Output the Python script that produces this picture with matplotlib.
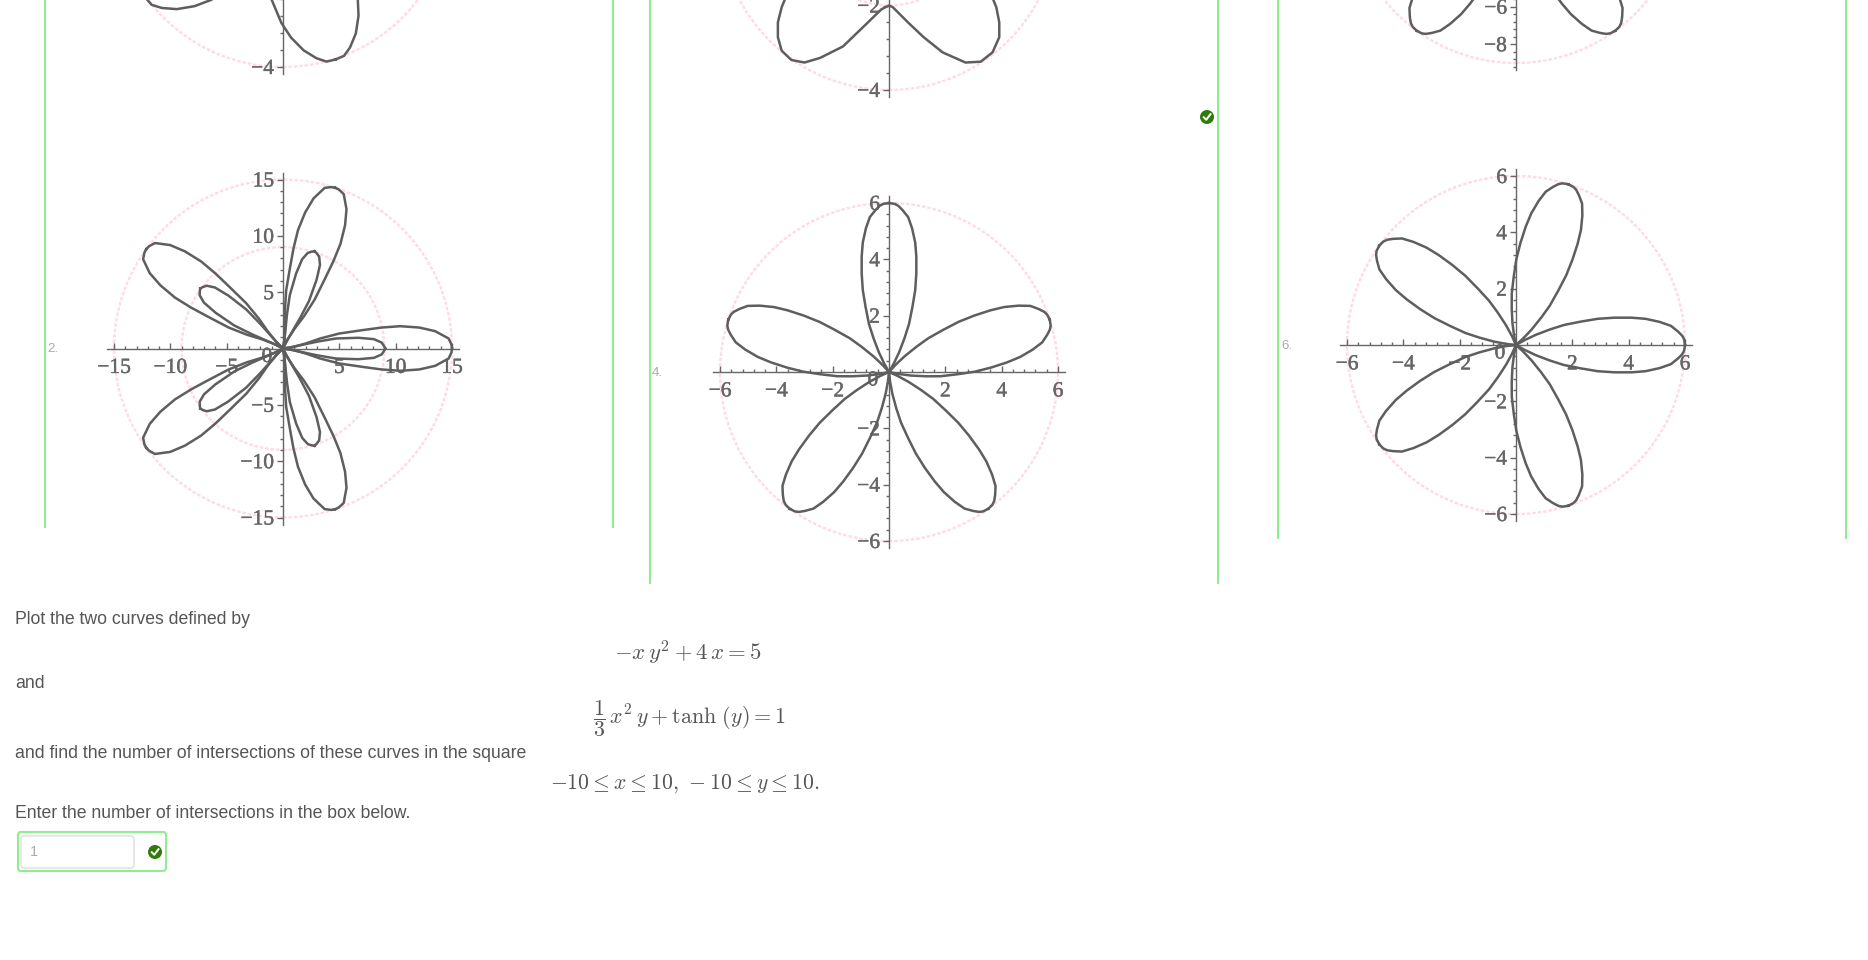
#!/usr/bin/env python3
# -*- coding: utf-8 -*-

import matplotlib
matplotlib.use("Agg")
import matplotlib.pyplot as plt
import matplotlib.patheffects as pe
from matplotlib.patches import Circle, FancyBboxPatch
from matplotlib.ticker import MultipleLocator
from matplotlib.transforms import Affine2D

W, H = 1868, 960
AXIS_GREY = "#666666"
CURVE_GREY = "#5e5e5e"
PINK = "#ffdbe2"
GREEN = "#90ee90"
TEXT_GREY = "#555555"

plt.rcParams['font.family'] = ['Liberation Sans', 'DejaVu Sans']
plt.rcParams['mathtext.fontset'] = 'cm'

# Petal outline, for a petal with its tip at r = 6
petal_along = [6.0, 5.97, 5.9, 5.75, 5.5, 5.1, 4.6, 4.1, 3.5, 2.9, 2.3, 1.7, 1.2, 0.7, 0.3, 0.0]
petal_half = [0.0, 0.2, 0.33, 0.48, 0.68, 0.82, 0.93, 0.97, 0.97, 0.93, 0.83, 0.71, 0.55, 0.36, 0.17, 0.0]

# Panel 1 petals are fatter than the r = 6 ones
fat_along = [4.02, 4.0, 3.85, 3.58, 3.2, 2.8, 2.2, 1.6, 1.1, 0.6, 0.25, 0.0]
fat_half = [0.0, 0.22, 0.42, 0.65, 0.84, 0.95, 1.0, 0.9, 0.7, 0.42, 0.18, 0.0]

# Panel 2 has two petal shapes
outer_along = [15.0, 14.95, 14.7, 13.5, 12.1, 10.4, 8.75, 7.05, 5.0, 3.3, 2.0, 0.95, 0.0]
outer_half = [0.0, 0.35, 0.89, 1.54, 1.86, 1.98, 1.86, 1.63, 1.33, 0.89, 0.44, 0.15, 0.0]
inner_along = [9.08, 8.95, 8.75, 8.07, 6.7, 4.7, 3.0, 1.6, 0.6, 0.0]
inner_half = [0.0, 0.25, 0.53, 0.83, 0.95, 0.89, 0.6, 0.3, 0.09, 0.0]

# Panel 3, the part of the curve that shows below the page top
dimple_x = [-2.45, -2.54, -2.63, -2.63, -2.54, -2.31, -2.0, -1.63, -1.09, -0.54, -0.18, 0.0,
            0.09, 0.45, 0.82, 1.27, 1.81, 2.17, 2.45, 2.61, 2.61, 2.54, 2.45]
dimple_y = [-1.82, -2.04, -2.4, -2.75, -3.07, -3.29, -3.35, -3.24, -2.97, -2.44, -2.09, -2.0,
            -2.04, -2.4, -2.75, -3.11, -3.35, -3.33, -3.11, -2.75, -2.4, -2.04, -1.82]

dirs_right = [0, 72, 144, 216, 288]
dirs_up = [90, 162, 234, 306, 18]

ticks_15 = [-15, -10, -5, 5, 10, 15]
labels_15 = ["−15", "−10", "−5", "5", "10", "15"]
ticks_6 = [-6, -4, -2, 2, 4, 6]
labels_6 = ["−6", "−4", "−2", "2", "4", "6"]

# Top row: only the y ticks that are on the page
yticks_1 = [-4]
ylabels_1 = ["−4"]
yticks_3 = [-4, -2]
ylabels_3 = ["−4", "−2"]
yticks_5 = [-8, -6]
ylabels_5 = ["−8", "−6"]

fig = plt.figure(figsize=(W / 100, H / 100), dpi=100, facecolor="white")

page = fig.add_axes([0, 0, 1, 1])
page.set_xlim(0, W)
page.set_ylim(H, 0)
page.axis("off")

halo = [pe.withStroke(linewidth=0.3, foreground=AXIS_GREY)]


def make_panel(cx, cy, rmax, step, radii, xticks, xlabels, yticks, ylabels, show_zero=False):
    # cx, cy = pixel position of the origin, rmax sits 169 px from it
    half = 176
    ax = fig.add_axes([(cx - half) / W, 1 - (cy + half) / H, 2 * half / W, 2 * half / H])
    lim = rmax * half / 169
    ax.set_xlim(-lim, lim)
    ax.set_ylim(-lim, lim)
    ax.patch.set_alpha(0)
    for side in ["top", "right"]:
        ax.spines[side].set_visible(False)
    for side in ["left", "bottom"]:
        ax.spines[side].set_position("zero")
        ax.spines[side].set_color(AXIS_GREY)
        ax.spines[side].set_linewidth(1.0)
    ax.set_xticks(xticks, labels=xlabels, family="Liberation Serif", fontsize=15.5, color=AXIS_GREY)
    ax.set_yticks(yticks, labels=ylabels, family="Liberation Serif", fontsize=15.5, color=AXIS_GREY)
    ax.xaxis.set_minor_locator(MultipleLocator(step))
    ax.yaxis.set_minor_locator(MultipleLocator(step))
    ax.tick_params(axis="x", which="major", direction="in", length=4.5, width=1, color=AXIS_GREY, pad=7.5)
    ax.tick_params(axis="x", which="minor", direction="in", length=2.2, width=1, color=AXIS_GREY)
    ax.tick_params(axis="y", which="major", direction="out", length=4.5, width=1, color=AXIS_GREY, pad=2)
    ax.tick_params(axis="y", which="minor", direction="out", length=2.2, width=1, color=AXIS_GREY)
    for lab in ax.get_xticklabels() + ax.get_yticklabels():
        lab.set_path_effects(halo)
    for r in radii:
        ax.add_patch(Circle((0, 0), r, fill=False, edgecolor=PINK, linewidth=1.7,
                            linestyle=(0, (1.5, 0.8)), zorder=1))
    if show_zero:
        ax.annotate("0", (0, 0), xytext=(-16, -9), textcoords="offset pixels", ha="center", va="center",
                    family="Liberation Serif", fontsize=15.5, color=AXIS_GREY, path_effects=halo)
    return ax


def draw_petals(ax, along, half, dirs, scale=1.0):
    xs = [a * scale for a in along] + [a * scale for a in reversed(along)]
    ys = [h * scale for h in half] + [-h * scale for h in reversed(half)]
    for d in dirs:
        ax.plot(xs, ys, color=CURVE_GREY, linewidth=1.8, solid_joinstyle="round", zorder=3,
                transform=Affine2D().rotate_deg(d) + ax.transData)


# Top row, cut off by the page top
ax1 = make_panel(283, -102, 4, 0.4, [4], [], [], yticks_1, ylabels_1)
draw_petals(ax1, fat_along, fat_half, dirs_right)

ax3 = make_panel(889, -79, 4, 0.4, [2, 4], [], [], yticks_3, ylabels_3)
ax3.plot(dimple_x, dimple_y, color=CURVE_GREY, linewidth=1.8, zorder=3)

ax5 = make_panel(1516, -106, 9, 0.4, [9], [], [], yticks_5, ylabels_5)
draw_petals(ax5, petal_along, petal_half, dirs_up, 9 / 6)

# Lower row
ax2 = make_panel(283, 348.5, 15, 1, [9, 15], ticks_15, labels_15, ticks_15, labels_15, show_zero=True)
draw_petals(ax2, outer_along, outer_half, dirs_right)
draw_petals(ax2, inner_along, inner_half, dirs_right)

ax4 = make_panel(889, 372, 6, 0.4, [6], ticks_6, labels_6, ticks_6, labels_6, show_zero=True)
draw_petals(ax4, petal_along, petal_half, dirs_up)

ax6 = make_panel(1516, 345, 6, 0.4, [6], ticks_6, labels_6, ticks_6, labels_6, show_zero=True)
draw_petals(ax6, petal_along, petal_half, dirs_right)

# Panel frames and item numbers
for x, bottom in [(45, 528), (613, 528), (650, 584), (1218, 584), (1278, 539), (1846, 539)]:
    page.plot([x, x], [0, bottom], color=GREEN, linewidth=1.5, solid_capstyle="butt")
for label, x, y in [("2.", 47, 349), ("4.", 652, 373), ("6.", 1281, 346)]:
    page.text(x, y, label, fontsize=9.5, color="#aaaaaa", va="center")


def check_mark(x, y, radius=7):
    page.add_patch(Circle((x, y), radius, facecolor="#2e7d0c", edgecolor="none"))
    page.plot([x - 3.2, x - 0.8, x + 3.5], [y + 0.3, y + 2.8, y - 2.8], color="white", linewidth=1.4)


check_mark(1207, 117)

# Question text
for s, y in [("Plot the two curves defined by", 619), ("and", 683),
             ("and find the number of intersections of these curves in the square", 753),
             ("Enter the number of intersections in the box below.", 813)]:
    page.text(15, y, s, fontsize=12.7, color=TEXT_GREY, va="center")

page.text(688, 653, r"$-x\,y^2+4\,x=5$", fontsize=16.4, color=TEXT_GREY, ha="center", va="center")
page.text(689, 719, r"$\dfrac{1}{3}\,x^2\,y+\tanh\,(y)=1$", fontsize=15.8, color=TEXT_GREY, ha="center", va="center")
page.text(685, 784, r"$-10\leq x\leq 10,\,-10\leq y\leq 10.$", fontsize=15.7, color=TEXT_GREY, ha="center", va="center")

# Answer box
page.add_patch(FancyBboxPatch((18, 832), 148, 39, boxstyle="round,pad=0,rounding_size=3",
                              facecolor="white", edgecolor=GREEN, linewidth=1.5))
page.add_patch(FancyBboxPatch((21, 836), 113, 32, boxstyle="round,pad=0,rounding_size=3",
                              facecolor="white", edgecolor="#dddddd", linewidth=1.0))
page.text(30, 852, "1", fontsize=10.5, color="#aaaaaa", va="center")
check_mark(155, 852)

fig.savefig("out.png", dpi=100)
